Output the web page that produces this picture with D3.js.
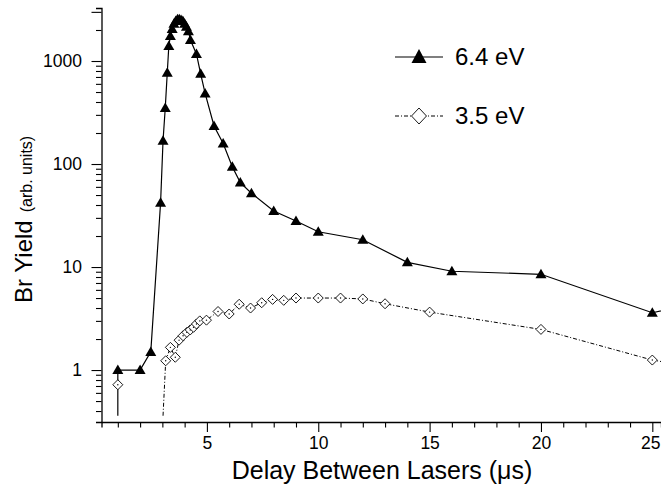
<!DOCTYPE html>
<html>
<head>
<meta charset="utf-8">
<script src="https://cdn.jsdelivr.net/npm/d3@7"></script>
<style>
  body { margin: 0; background: #fff; }
  svg { font-family: "Liberation Sans", Arial, sans-serif; }
</style>
</head>
<body>
<svg id="chart" width="661" height="489"></svg>
<script>
// data (0 = below the axis, drawn down to the floor)
var delay64 = [1, 1, 2, 2.48, 2.92, 3.03, 3.13, 3.22, 3.29, 3.36, 3.44, 3.52, 3.6, 3.68, 3.76, 3.84, 3.92, 4.0, 4.08, 4.17, 4.26, 4.53, 4.72, 4.92, 5.32, 5.73, 6.14, 6.5, 7, 8, 9, 10, 12, 14, 16, 20, 25, 26];
var yield64 = [0, 1.0, 1.0, 1.5, 42, 168, 350, 770, 1400, 1750, 2050, 2300, 2450, 2550, 2550, 2500, 2450, 2300, 2150, 1950, 1600, 1170, 750, 485, 234, 158, 94, 66, 52, 35, 28, 22, 18.4, 11.1, 9.1, 8.5, 3.6, 4.0];

var delay35 = [1, 2, 3.03, 3.15, 3.36, 3.58, 3.75, 3.93, 4.1, 4.25, 4.4, 4.53, 4.68, 4.98, 5.5, 6.0, 6.45, 6.96, 7.46, 7.95, 8.45, 9, 10, 11, 12, 13, 15, 20, 25, 26];
var yield35 = [0.72, null, 0, 1.23, 1.66, 1.33, 1.95, 2.15, 2.32, 2.45, 2.6, 2.8, 3.0, 3.05, 3.7, 3.5, 4.35, 4.0, 4.5, 4.85, 4.75, 5.0, 5.0, 5.0, 4.9, 4.4, 3.65, 2.48, 1.25, 1.15];

var seriesNames = ["6.4 eV", "3.5 eV"];
var xTicks = d3.range(1, 26);
var yLabelTicks = [1, 10, 100, 1000];
var FLOOR = 0.36;

var svg = d3.select("#chart");

var x = d3.scaleLinear().domain([0.267, 25.39]).range([101.5, 661]);
var y = d3.scaleLog().domain([0.313, 3270]).range([422, 8]);

function rows(xs, ys) {
    return xs.map(function(d, i) { return {x: d, y: ys[i]}; });
}
var data64 = rows(delay64, yield64);
var data35 = rows(delay35, yield35);

var line = d3.line()
    .defined(function(d) { return d.y !== null; })
    .x(function(d) { return x(d.x); })
    .y(function(d) { return y(d.y > 0 ? d.y : FLOOR); });

svg.append("clipPath").attr("id", "plot")
  .append("rect").attr("x", 101.5).attr("y", 0).attr("width", 560).attr("height", 422);

var plot = svg.append("g").attr("clip-path", "url(#plot)");

// 3.5 eV, dash-dot
plot.append("path")
    .datum(data35)
    .attr("d", line)
    .attr("fill", "none")
    .attr("stroke", "#000")
    .attr("stroke-width", 1)
    .attr("stroke-dasharray", "4,2,1,2");

// 6.4 eV, solid
plot.append("path")
    .datum(data64)
    .attr("d", line)
    .attr("fill", "none")
    .attr("stroke", "#000")
    .attr("stroke-width", 1.2);

var tri = "M0,-5.5L5.5,4L-5.5,4Z";
var dia = "M0,-5L5,0L0,5L-5,0Z";

var dias = plot.selectAll("g.dia").data(data35.filter(function(d) { return d.y > 0; }))
  .enter().append("g")
    .attr("class", "dia")
    .attr("transform", function(d) { return "translate(" + x(d.x) + "," + y(d.y) + ")"; });
dias.append("path")
    .attr("d", dia)
    .attr("fill", "#fff")
    .attr("stroke", "#000")
    .attr("stroke-width", 0.9);
dias.append("circle").attr("r", 0.7).attr("fill", "#000");

plot.selectAll("path.tri").data(data64.filter(function(d) { return d.y > 0; }))
  .enter().append("path")
    .attr("class", "tri")
    .attr("d", tri)
    .attr("transform", function(d) { return "translate(" + x(d.x) + "," + y(d.y) + ")"; })
    .attr("fill", "#000");

// x axis
var gx = svg.append("g")
    .attr("transform", "translate(0,422)")
    .call(d3.axisBottom(x)
        .tickValues(xTicks)
        .tickSizeOuter(0)
        .tickSize(5.5)
        .tickPadding(9)
        .tickFormat(function(d) { return d % 5 === 0 ? d : ""; }));
gx.selectAll(".tick line").attr("y2", function(d) { return d % 5 === 0 ? 10 : 5.5; });
// last label sits against the right edge
gx.selectAll(".tick text").attr("dx", function(d) { return d === 25 ? -2 : 0; });

// y axis
var yTicks = [];
[0.1, 1, 10, 100, 1000].forEach(function(dec) {
    d3.range(1, 10).forEach(function(m) {
        var v = m * dec;
        if (v >= 0.314 && v <= 3270) yTicks.push(v);
    });
});
var gy = svg.append("g")
    .attr("transform", "translate(101.5,0)")
    .call(d3.axisLeft(y)
        .tickValues(yTicks)
        .tickSizeOuter(0)
        .tickSize(5.5)
        .tickPadding(14)
        .tickFormat(function(d) { return yLabelTicks.indexOf(d) >= 0 ? d : ""; }));
gy.selectAll(".tick line").attr("x2", function(d) { return yLabelTicks.indexOf(d) >= 0 || d === 3000 ? -10 : -5.5; });

svg.selectAll(".domain").attr("stroke", "#000").attr("stroke-width", 1.3);
svg.selectAll(".tick line").attr("stroke", "#000").attr("stroke-width", 1.1);
svg.selectAll(".tick text").attr("fill", "#000").style("font-size", "17.5px");

// axis titles
svg.append("text")
    .attr("x", 382)
    .attr("y", 479)
    .attr("text-anchor", "middle")
    .style("font-size", "25px")
    .text("Delay Between Lasers (μs)");

var yt = svg.append("text")
    .attr("transform", "translate(32,303) rotate(-90)")
    .attr("text-anchor", "start");
yt.append("tspan").style("font-size", "24px").text("Br Yield");
yt.append("tspan").attr("dx", 8).style("font-size", "16px").text("(arb. units)");

// legend
var legend = svg.append("g");
legend.append("line").attr("x1", 395).attr("x2", 443).attr("y1", 57).attr("y2", 57)
    .attr("stroke", "#000").attr("stroke-width", 1.2);
legend.append("path").attr("d", "M0,-8L7.5,6L-7.5,6Z").attr("transform", "translate(419,57)").attr("fill", "#000");
legend.append("line").attr("x1", 395).attr("x2", 443).attr("y1", 116).attr("y2", 116)
    .attr("stroke", "#000").attr("stroke-width", 1).attr("stroke-dasharray", "4,2,1,2");
legend.append("path").attr("d", "M0,-8L7.5,0L0,8L-7.5,0Z").attr("transform", "translate(419,116)")
    .attr("fill", "#fff").attr("stroke", "#000").attr("stroke-width", 0.9);
legend.selectAll("text.lg").data(seriesNames).enter().append("text")
    .attr("class", "lg")
    .attr("x", 455)
    .attr("y", function(d, i) { return i === 0 ? 65 : 124; })
    .style("font-size", "24px")
    .text(function(d) { return d; });
</script>
</body>
</html>
